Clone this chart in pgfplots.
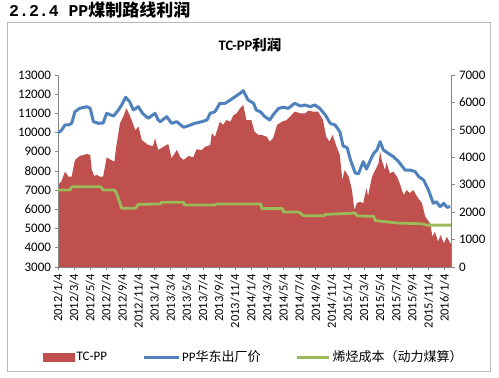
\documentclass[border=0pt]{standalone}
\usepackage{pgfplots}
\pgfplotsset{compat=1.18}
\usepackage{fontspec}
\setmainfont{Carlito}
\newfontfamily\cjk{Noto Sans CJK SC}
\newfontfamily\monof{Liberation Mono}
\definecolor{redc}{HTML}{C0504D}
\definecolor{bluec}{HTML}{4F81BD}
\definecolor{greenc}{HTML}{9BBB59}
\definecolor{axc}{HTML}{868686}

\pgfplotstableread{
m p
0 2990
0.4 3111
0.87 3476
1.3 3293
1.7 3293
2.1 3901
2.7 4047
3.6 4120
4.0 4083
4.2 3536
4.5 3318
4.8 3360
5.2 3293
5.6 3293
6.05 3998
6.6 3901
7.0 3840
7.2 4326
7.7 5239
8.1 5481
8.5 5786
8.9 5542
9.6 4995
10.0 5117
10.4 4631
11.2 4448
11.8 4410
12.05 4691
12.45 4266
13.1 4387
13.7 4484
14.1 3962
14.75 4266
15.2 3998
15.6 3901
16.2 4047
16.8 3998
17.2 4290
17.85 4266
18.3 4387
18.9 4448
19.1 4875
19.5 4751
20.1 5298
20.5 5180
20.9 5359
21.4 5298
21.8 5542
22.2 5603
22.6 5786
23.0 5907
23.4 5359
24.0 5359
24.4 4934
24.9 4813
25.3 4813
25.9 4751
26.3 4569
26.7 4690
27.2 5177
27.8 5298
28.4 5359
29.0 5542
29.4 5663
30.1 5603
30.7 5603
31.1 5699
31.7 5663
32.3 5663
32.9 5359
33.3 4751
33.7 4569
34.1 4813
34.6 4387
35.0 4083
35.3 3172
35.6 3536
36.1 3293
36.5 2808
36.8 2078
37.1 2323
37.5 2380
37.9 2323
38.3 2870
38.5 2590
39.0 3293
39.4 3536
39.8 3780
40.0 4205
40.2 3901
40.6 3536
40.8 3808
41.2 3416
41.65 3476
42.1 3293
42.5 2990
42.9 2625
43.3 2808
43.7 2686
44.1 2808
44.6 2562
45.2 2323
45.6 1834
46.2 1593
46.5 1105
46.8 1288
47.2 924
47.5 1169
47.9 861
48.3 1105
48.7 861
48.8 861
}\profit

\pgfplotstableread{
m v
0 9995
0.4 10100
0.87 10396
1.3 10400
1.7 10484
2.1 11090
2.7 11265
3.6 11350
4.0 11265
4.4 10568
5.0 10484
5.6 10500
6.05 11004
6.9 10865
7.5 11177
7.9 11438
8.4 11838
8.9 11611
9.35 11177
9.97 11350
10.5 11004
11.2 10745
12.05 11004
12.45 10656
12.7 10568
13.5 10830
14.1 10484
14.75 10568
15.6 10275
16.2 10360
17.0 10484
17.85 10568
18.5 10656
18.9 11004
19.5 11090
20.1 11525
20.75 11525
21.4 11698
22.0 11871
22.6 12047
23.0 12183
23.6 11698
24.3 11525
24.6 11177
25.1 11090
25.7 10830
26.3 10656
26.7 10917
27.4 11265
28.0 11317
28.6 11265
29.4 11525
30.1 11386
30.7 11438
31.3 11350
31.9 11438
32.5 11265
33.2 10917
33.8 10484
34.4 10396
35.0 10048
35.4 9300
35.9 9220
36.3 8600
36.9 7900
37.3 7850
37.9 8486
38.3 8100
38.8 8573
39.2 8920
39.6 9094
40.0 9527
40.4 9094
41.0 8920
41.65 8747
42.3 8486
43.1 8052
43.7 8052
44.35 7965
44.8 7704
45.4 7531
46.0 7011
46.6 6318
47.0 6400
47.45 6141
47.9 6318
48.3 6110
48.7 6141
}\price

\pgfplotstableread{
m v
0 7011
1.5 7011
1.7 7183
5.3 7183
5.6 7011
7.0 7011
7.2 6900
7.5 6578
7.9 6058
9.6 6058
10.0 6266
12.7 6283
12.8 6370
15.6 6370
15.7 6230
19.5 6230
19.7 6283
25.2 6283
25.3 6040
27.9 6040
28.0 5860
29.9 5860
30.5 5674
33.0 5674
33.2 5740
36.5 5800
36.8 5830
37.2 5660
39.2 5640
39.4 5420
42.1 5290
45.2 5250
45.8 5180
48.8 5180
}\cost

\begin{document}
\begin{tikzpicture}
\path[use as bounding box] (0pt,0pt) rectangle (499pt,378pt);
\draw[color=black!28, line width=0.9pt] (7pt,7pt) rectangle (490pt,355.3pt);
\node[anchor=west, inner sep=0pt] at (9pt,368pt) {\fontsize{16.5}{18}\selectfont
  \monof\bfseries 2.2.4 PP\cjk\bfseries\fontsize{17}{18}\selectfont 煤制路线利润};
\node[anchor=center, inner sep=0pt] at (250pt,333pt) {\fontsize{14.5}{16}\selectfont\bfseries TC-PP{\cjk\bfseries 利润}};

% right axis with TC-PP area
\begin{axis}[
  scale only axis, width=393pt, height=192pt,
  at={(58pt,111pt)}, anchor=south west,
  xmin=0, xmax=48.8, ymin=0, ymax=7000,
  axis y line*=right, axis x line=none,
  axis line style={draw=axc, line width=0.8pt, -},
  ytick={0,1000,...,7000},
  tick align=outside, major tick length=3.5pt,
  every tick/.style={draw=axc, line width=0.8pt},
  yticklabel style={font=\fontsize{13}{15}\selectfont, xshift=1pt},
  /pgf/number format/assume math mode=true,
  /pgf/number format/1000 sep={},
  scaled y ticks=false,
]
\addplot[fill=redc, draw=none] table[x=m, y=p] {\profit} \closedcycle;
\end{axis}

% left axis with price and cost
\begin{axis}[
  scale only axis, width=393pt, height=192pt,
  at={(58pt,111pt)}, anchor=south west,
  xmin=0, xmax=48.8, ymin=3000, ymax=13000,
  axis y line*=left, axis x line*=bottom,
  axis line style={draw=axc, line width=0.8pt, -},
  ytick={3000,4000,...,13000},
  xtick={0,2,...,48},
  xticklabels={2012/1/4,2012/3/4,2012/5/4,2012/7/4,2012/9/4,2012/11/4,2013/1/4,2013/3/4,2013/5/4,2013/7/4,2013/9/4,2013/11/4,2014/1/4,2014/3/4,2014/5/4,2014/7/4,2014/9/4,2014/11/4,2015/1/4,2015/3/4,2015/5/4,2015/7/4,2015/9/4,2015/11/4,2016/1/4},
  xticklabel style={rotate=90, anchor=east, font=\fontsize{12.5}{14}\selectfont},
  tick align=outside, major tick length=3.5pt,
  every tick/.style={draw=axc, line width=0.8pt},
  yticklabel style={font=\fontsize{13}{15}\selectfont},
  /pgf/number format/assume math mode=true,
  /pgf/number format/1000 sep={},
  scaled y ticks=false,
  legend columns=3,
  legend style={draw=none, fill=none, at={(-0.038,-0.469)}, anchor=west,
    font=\fontsize{13}{15}\selectfont, inner xsep=0pt,
    /tikz/every even column/.append style={column sep=33pt}},
  legend cell align=left,
]
\addlegendimage{legend image code/.code={\fill[redc] (0pt,-4pt) rectangle (31pt,4pt);}}
\addlegendentry{TC-PP}
\addplot[color=bluec, line width=3pt, line join=round,
  legend image code/.code={\draw[bluec, line width=3pt] (0pt,0pt) -- (35pt,0pt);}]
  table[x=m, y=v] {\price};
\addlegendentry{PP{\cjk 华东出厂价}}
\addplot[color=greenc, line width=2.8pt, line join=round,
  legend image code/.code={\draw[greenc, line width=3pt] (0pt,0pt) -- (32pt,0pt);}]
  table[x=m, y=v] {\cost};
\addlegendentry{{\cjk 烯烃成本（动力煤算）}}
\end{axis}
\end{tikzpicture}
\end{document}
